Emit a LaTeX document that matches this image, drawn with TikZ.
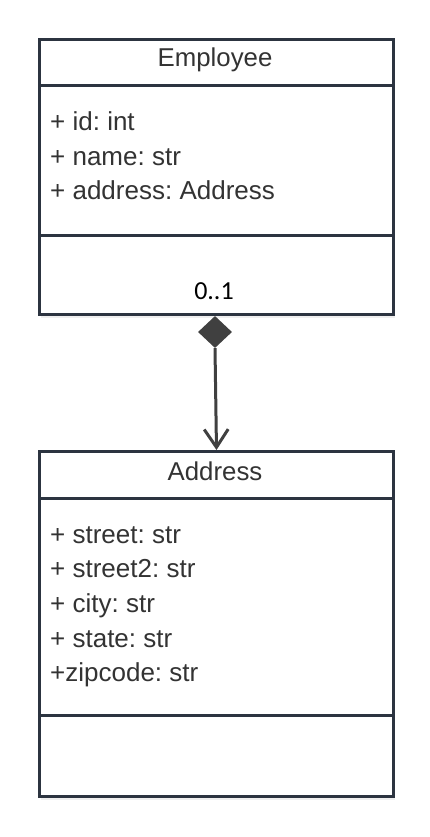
\documentclass[tikz,border=0pt]{standalone}
\usepackage{fontspec}
\setmainfont{Liberation Sans}
\newfontfamily\calib{Carlito}
\frenchspacing
\usetikzlibrary{arrows.meta,shapes.geometric,shadows}
\definecolor{boxline}{HTML}{2C3440}
\definecolor{txt}{HTML}{333333}
\definecolor{conn}{HTML}{404040}
\tikzset{
  umlbox/.style={draw=boxline, line width=3pt, fill=white, anchor=north west, inner sep=0pt,
    drop shadow={opacity=0.12, shadow xshift=1pt, shadow yshift=-3pt}},
  divider/.style={draw=boxline, line width=3pt},
  title/.style={anchor=base, inner sep=0pt, text=txt, font=\fontsize{25.8}{30}\selectfont},
  attr/.style={anchor=base west, inner sep=0pt, text=txt, font=\fontsize{26}{30}\selectfont},
  mult/.style={anchor=base, inner sep=0pt, text=black, font=\calib\fontsize{26}{30}\selectfont},
  compdiamond/.style={diamond, fill=conn, inner sep=0pt, minimum width=34pt, minimum height=32pt},
  assoc/.style={draw=conn, line width=3pt, -{Straight Barb[length=18pt,width=24pt,line width=3pt]}}
}
\begin{document}
\begin{tikzpicture}[x=1pt,y=-1pt]
\useasboundingbox[fill=white] (0,0) rectangle (430,837);
% Employee class
\node[umlbox, minimum width=354pt, minimum height=275pt] (emp) at (38,38) {};
\draw[divider] (38,86) -- (392,86);
\draw[divider] (38,235) -- (392,235);
\node[title] (empt) at (215,67) {Employee};
\node[attr] (e1) at (50,131) {+ id: int};
\node[attr] (e2) at (50,165.5) {+ name: str};
\node[attr] (e3) at (50,200) {+ address: Address};
\node[mult] (m) at (214,299) {0..1};
% Address class
\node[umlbox, minimum width=354pt, minimum height=345pt] (addr) at (38,450) {};
\draw[divider] (38,498) -- (392,498);
\draw[divider] (38,715) -- (392,715);
\node[title] (addrt) at (215,480) {Address};
\node[attr] (a1) at (50,543) {+ street: str};
\node[attr] (a2) at (50,577.7) {+ street2: str};
\node[attr] (a3) at (50,612.4) {+ city: str};
\node[attr] (a4) at (50,647.1) {+ state: str};
\node[attr] (a5) at (50,681.8) {+zipcode: str};
% composition connector
\node[compdiamond] (dia) at (215,332) {};
\draw[assoc] (dia.south) -- (addr.north);
\end{tikzpicture}
\end{document}
